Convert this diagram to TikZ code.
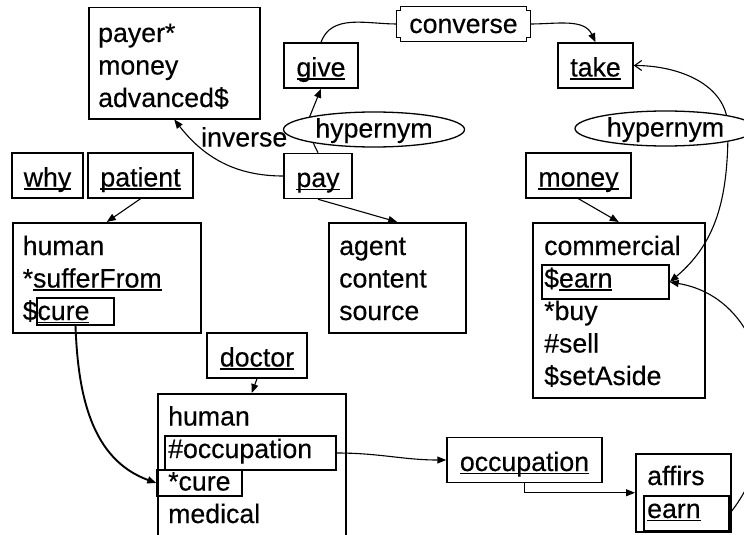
\documentclass[tikz,border=0pt]{standalone}
\usepackage{fontspec}
\setmainfont{Liberation Sans}[FakeBold=0.35]
\usetikzlibrary{shapes.geometric,arrows.meta}
% underlined word with an Arial-like underline position
\newcommand\uword[1]{\setbox0\hbox{#1}\rlap{\rule[-3.4pt]{\wd0}{1.9pt}}\box0}

\begin{document}
\begin{tikzpicture}[x=1pt,y=1pt,
  every node/.style={font=\fontsize{26.7}{32}\selectfont, inner sep=0pt},
  txt/.style={anchor=base west},
  frame/.style={draw, line width=1.5pt, rectangle, anchor=north west},
  lbl/.style={draw, line width=1.5pt, rectangle, text height=33.5pt, text depth=11.5pt},
  inbox/.style={draw, line width=1.4pt, rectangle},
  hyp/.style={draw, ellipse, fill=white, line width=1.3pt, minimum width=181pt,
    minimum height=35pt, text height=20pt, text depth=4pt},
  wire/.style={line width=1.1pt},
  link/.style={line width=1.1pt, -{Triangle[length=9pt,width=7pt]}},
]
\useasboundingbox (0,0) rectangle (744,-535);
\fill[white] (0,0) rectangle (744,-535);
\clip (0,0) rectangle (744,-535);

% ---- frames ----
\node[frame, minimum width=171pt, minimum height=111pt] (payerbox) at (88,-7) {};
\node[frame, minimum width=188pt, minimum height=110pt] (humanA) at (12,-222) {};
\node[frame, minimum width=137pt, minimum height=110pt] (agentbox) at (328,-222) {};
\node[frame, minimum width=172pt, minimum height=175pt] (commbox) at (532,-222) {};
\node[frame, minimum width=188pt, minimum height=170pt] (docbox) at (157,-393) {};
\node[frame, minimum width=95pt, minimum height=78pt] (affirsbox) at (635,-453) {};

% ---- slot boxes inside frames ----
\node[inbox, minimum width=77pt, minimum height=27pt] (cureA) at (75.5,-311.5) {};
\node[inbox, minimum width=127pt, minimum height=34pt] (earnA) at (605.5,-282) {};
\node[inbox, minimum width=171pt, minimum height=34pt] (occA) at (250.5,-453) {};
\node[inbox, minimum width=85pt, minimum height=26pt] (cureB) at (199.5,-483) {};
\node[inbox, minimum width=85pt, minimum height=35pt] (earnB) at (686.5,-513.5) {};

% ---- single word concepts ----
\node[lbl, minimum width=74pt] (give) at (321,-65.5) {\uword{give}};
\node[lbl, minimum width=75pt] (take) at (595.5,-65.5) {\uword{take}};
\node[lbl, minimum width=68pt] (pay) at (318,-176) {\uword{pay}};
\node[lbl, minimum width=71pt] (why) at (47.5,-175.5) {\uword{why}};
\node[lbl, minimum width=105pt] (patient) at (140.5,-175.5) {\uword{patient}};
\node[lbl, minimum width=105pt] (money) at (578.5,-175.5) {\uword{money}};
\node[lbl, minimum width=100pt] (doctor) at (257,-355.5) {\uword{doctor}};
\node[lbl, minimum width=155pt] (occupation) at (524.5,-460) {\uword{occupation}};

% ---- frame contents ----
\node[txt] (p1) at (98,-42) {payer*};
\node[txt] (p2) at (98,-74.5) {money};
\node[txt] (p3) at (98,-107) {advanced\$};

\node[txt] (h1a) at (22.5,-255) {human};
\node[txt] (h1b) at (22.5,-287.5) {*\uword{sufferFrom}};
\node[txt] (h1c) at (22.5,-320) {\$\uword{cure}};

\node[txt] (a1) at (339,-255) {agent};
\node[txt] (a2) at (339,-287.5) {content};
\node[txt] (a3) at (339,-320) {source};

\node[txt] (c1) at (544,-255) {commercial};
\node[txt] (c2) at (544,-287.5) {\$\uword{earn}};
\node[txt] (c3) at (544,-320) {*buy};
\node[txt] (c4) at (544,-352.5) {\#sell};
\node[txt] (c5) at (544,-385) {\$setAside};

\node[txt] (d1) at (168,-425.5) {human};
\node[txt] (d2) at (168,-458) {\#occupation};
\node[txt] (d3) at (168,-490.5) {*cure};
\node[txt] (d4) at (168,-523) {medical};

\node[txt] (f1) at (647,-485) {affirs};
\node[txt] (f2) at (647,-518) {\uword{earn}};

% ---- converse relation box with notched corners ----
\node[minimum width=133pt, minimum height=34pt, text height=22pt, text depth=4pt]
  (conv) at (463.5,-24) {converse};
\draw[line width=1.3pt] ([xshift=4pt]conv.north west) -- ([xshift=-4pt]conv.north east)
  -- ++(0,-4) -- ++(4,0) -- ([yshift=4pt]conv.south east) -- ++(-4,0) -- ++(0,-4)
  -- ([xshift=4pt]conv.south west) -- ++(0,4) -- ++(-4,0)
  -- ([yshift=-4pt]conv.north west) -- ++(4,0) -- cycle;

% ---- connectors ----
\coordinate (hA) at (305.5,-127);
\coordinate (hB) at (728,-128);

\draw[wire] (give.north) to[out=70,in=180] (conv.west);
\draw[link] (conv.east) to[out=0,in=115] (take.north);
\draw[link] (pay.north) -- (hA) -- (give.south);
\draw[link] (pay.west) to[out=180,in=-52] (payerbox.south);
\node[txt] (invlbl) at (201,-146.5) {inverse};
\draw[link] (pay.south) -- (agentbox.north);
\draw[link] (patient.south) -- (humanA.north);
\draw[link] (money.south) -- (commbox.north);
\draw[link] (doctor.south) -- (docbox.north);
\draw[link, line width=1.9pt] (cureA.south) to[out=-88,in=160] (cureB.west);
\draw[link] (occA.east) to[out=0,in=180] (occupation.west);
\draw[link] (occupation.south) |- (affirsbox.west);
\draw[wire, {Straight Barb[length=7pt,width=10pt]}-{Triangle[length=9pt,width=7pt]}]
  (take.east) to[out=0,in=90] (hB) to[out=-90,in=40] (earnA.east);
\draw[link] (earnB.east) .. controls (790,-440) and (775,-300) .. (earnA.east);

% ---- hypernym labels over their links ----
\node[hyp] (hypA) at (374,-129.5) {hypernym};
\node[hyp] (hypB) at (665.5,-128.5) {hypernym};
\end{tikzpicture}
\end{document}
